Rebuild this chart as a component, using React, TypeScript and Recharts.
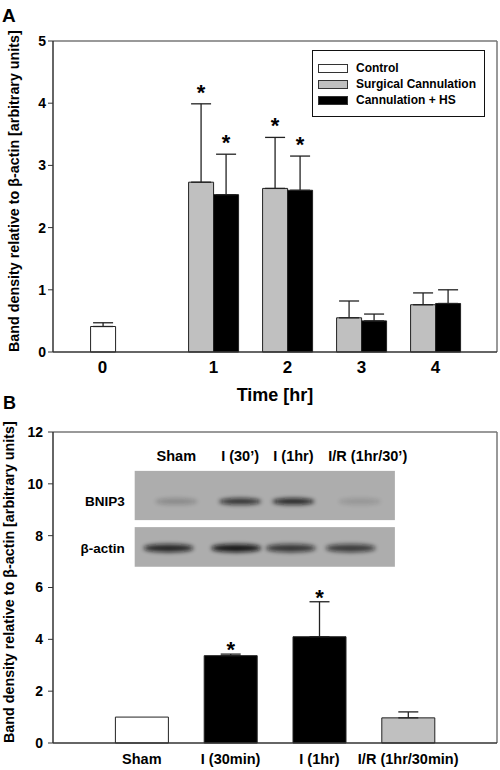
import React from 'react';
import {
  BarChart,
  Bar,
  XAxis,
  YAxis,
  ErrorBar,
  Legend,
  ReferenceLine,
  ReferenceArea,
  Label,
  Rectangle,
  Cell,
} from 'recharts';

const FONT = '"Liberation Sans", Arial, Helvetica, sans-serif';

// ---- panel A: band density over time ----
const timeLabels = ['0', '1', '2', '3', '4'];
const controlMean = [0.41, null, null, null, null];
const controlSem = [0.06, null, null, null, null];
const cannulationMean = [null, 2.73, 2.63, 0.55, 0.76];
const cannulationSem = [null, 1.26, 0.82, 0.27, 0.19];
const cannulationSig = [false, true, true, false, false];
const hsMean = [null, 2.53, 2.6, 0.5, 0.78];
const hsSem = [null, 0.65, 0.55, 0.11, 0.22];
const hsSig = [false, true, true, false, false];

// ---- panel B: ischemia / reperfusion groups ----
const groupLabels = ['Sham', 'I (30min)', 'I (1hr)', 'I/R (1hr/30min)'];
const groupKind = ['sham', 'ischemia', 'ischemia', 'reperfusion'];
const groupMean = [1.0, 3.37, 4.1, 0.97];
const groupSem = [null, 0.06, 1.35, 0.23];
const groupSig = [false, true, true, false];

// western blot inset
const laneLabels = ['Sham', 'I (30\u2019)', 'I (1hr)', 'I/R (1hr/30\u2019)'];
const bnip3Intensity = [0.22, 0.8, 0.88, 0.14];
const actinIntensity = [0.85, 0.95, 0.75, 0.72];

const legendItems = [
  { label: 'Control', kind: 'sham' },
  { label: 'Surgical Cannulation', kind: 'reperfusion' },
  { label: 'Cannulation + HS', kind: 'ischemia' },
];

const FILL: Record<string, string> = { sham: '#ffffff', reperfusion: '#c0c0c0', ischemia: '#000000' };
const EDGE = '#222';
const FRAME = '#777';

// time 0 stands apart from the hourly groups, as in the figure
const slotA = (i: number) => (i === 0 ? -0.5 : i);
const domainA: [number, number] = [-1.17, 4.83];
const domainB: [number, number] = [0, 5];

const oneSided = (v: number | null) => (v == null ? null : [0, v]);

const tableA = timeLabels.map((t, i) => ({
  pos: slotA(i),
  time: t,
  control: controlMean[i],
  controlErr: oneSided(controlSem[i]),
  controlSem: controlSem[i],
  cannulation: cannulationMean[i],
  cannulationErr: oneSided(cannulationSem[i]),
  cannulationSem: cannulationSem[i],
  cannulationSig: cannulationSig[i],
  hs: hsMean[i],
  hsErr: oneSided(hsSem[i]),
  hsSem: hsSem[i],
  hsSig: hsSig[i],
}));

const tableB = groupLabels.map((g, i) => ({
  pos: i + 1,
  group: g,
  kind: groupKind[i],
  value: groupMean[i],
  valueErr: oneSided(groupSem[i]),
  valueSem: groupSem[i],
  valueSig: groupSig[i],
}));

const bold = { fontFamily: FONT, fontWeight: 'bold' as const, fill: '#000' };

// bar with an asterisk over the error cap when significant
const starBar = (key: string, lift: number) => (props: any) => {
  const { x, y, width, height, payload } = props;
  const mean = payload?.[key];
  if (mean == null || !height) return null;
  const sem = payload[key + 'Sem'] ?? 0;
  const capY = y - (sem * height) / mean;
  return (
    <g>
      <Rectangle x={x} y={y} width={width} height={height} fill={props.fill} stroke={EDGE} strokeWidth={1} />
      {payload[key + 'Sig'] && (
        <text x={x + width / 2} y={capY - lift} textAnchor="middle" fontSize={22} {...bold}>
          *
        </text>
      )}
    </g>
  );
};

const yTitle = (dx: number, size: number) => (props: any) => {
  const vb = props.viewBox || {};
  const x = (vb.x ?? 0) + dx;
  const y = (vb.y ?? 0) + (vb.height ?? 0);
  return (
    <text x={x} y={y} transform={`rotate(-90 ${x} ${y})`} fontSize={size} {...bold}>
      Band density relative to {'\u03b2'}-actin [arbitrary units]
    </text>
  );
};

const timeTitle = (props: any) => {
  const vb = props.viewBox || {};
  return (
    <text x={vb.x + vb.width / 2} y={vb.y + 49} textAnchor="middle" fontSize={18} {...bold}>
      Time [hr]
    </text>
  );
};

const LegendBox = () => (
  <div
    style={{
      border: '1.5px solid #111',
      background: '#fff',
      padding: '9px 6px 8px 5px',
      fontFamily: FONT,
      fontWeight: 'bold',
      fontSize: 12,
      lineHeight: '16px',
      boxSizing: 'border-box',
      width: 173,
    }}
  >
    {legendItems.map((it) => (
      <div key={it.label} style={{ display: 'flex', alignItems: 'center' }}>
        <span
          style={{
            display: 'inline-block',
            width: 28,
            height: 7,
            background: FILL[it.kind],
            border: '1px solid #333',
            marginRight: 8,
          }}
        />
        {it.label}
      </div>
    ))}
  </div>
);

const lanePos = [0.16, 0.405, 0.61, 0.865];
const actinPos = [0.13, 0.39, 0.6, 0.83];

const blotShape = (kind: 'bnip3' | 'actin') => (props: any) => {
  const { x, y, width, height } = props;
  const levels = kind === 'bnip3' ? bnip3Intensity : actinIntensity;
  const centers = kind === 'bnip3' ? lanePos : actinPos;
  const bandY = y + height * (kind === 'bnip3' ? 0.62 : 0.53);
  return (
    <g>
      <defs>
        <filter id={`blur-${kind}`} x="-50%" y="-200%" width="200%" height="500%">
          <feGaussianBlur stdDeviation="2.2" />
        </filter>
      </defs>
      <rect x={x} y={y} width={width} height={height} fill="#adadad" />
      {levels.map((a, i) => (
        <ellipse
          key={i}
          cx={x + centers[i] * width}
          cy={bandY}
          rx={kind === 'bnip3' ? 21 : 25}
          ry={kind === 'bnip3' ? 3.2 : 4}
          fill="#111"
          opacity={a}
          filter={`url(#blur-${kind})`}
        />
      ))}
      {kind === 'bnip3' &&
        laneLabels.map((l, i) => (
          <text key={l} x={x + lanePos[i] * width + (i === 3 ? 8 : 0)} y={y - 10} textAnchor="middle" fontSize={14.5} {...bold}>
            {l}
          </text>
        ))}
      <text x={x - 10} y={bandY + 5} textAnchor="end" fontSize={13.5} {...bold}>
        {kind === 'bnip3' ? 'BNIP3' : '\u03b2-actin'}
      </text>
    </g>
  );
};

export default function App() {
  return (
    <div style={{ position: 'absolute', left: 0, top: 0, width: 500, height: 770, background: '#fff', fontFamily: FONT }}>
      <div style={{ position: 'absolute', left: 0, top: 0 }}>
        <BarChart width={500} height={410} data={tableA} margin={{ top: 41, right: 3, bottom: 0, left: 0 }} barGap={0}>
          <XAxis
            type="number"
            dataKey="pos"
            domain={domainA}
            allowDataOverflow
            ticks={tableA.map((r) => r.pos)}
            tickFormatter={(v) => tableA.find((r) => r.pos === v)?.time ?? ''}
            tickLine={false}
            tickSize={6}
            tickMargin={3}
            height={58}
            axisLine={{ stroke: '#333', strokeWidth: 1.5 }}
            tick={{ fontSize: 17, ...bold }}
          >
            <Label content={timeTitle} />
          </XAxis>
          <XAxis xAxisId="ctrl" type="number" dataKey="pos" domain={domainA} allowDataOverflow hide />
          <YAxis
            domain={[0, 5]}
            ticks={[0, 1, 2, 3, 4, 5]}
            width={53}
            tickSize={5}
            tickMargin={2}
            axisLine={{ stroke: '#333', strokeWidth: 1.5 }}
            tickLine={{ stroke: '#333' }}
            tick={{ fontSize: 14, ...bold }}
          >
            <Label content={yTitle(19, 14.3)} />
          </YAxis>
          <ReferenceLine y={5} stroke={FRAME} strokeWidth={1.5} />
          <ReferenceLine x={domainA[1]} stroke={FRAME} strokeWidth={1.5} />
          <Bar xAxisId="ctrl" dataKey="control" barSize={25} fill={FILL.sham} isAnimationActive={false} shape={starBar('control', 4)}>
            <ErrorBar dataKey="controlErr" width={10} stroke="#222" strokeWidth={1.3} direction="y" />
          </Bar>
          <Bar dataKey="cannulation" barSize={25} fill={FILL.reperfusion} isAnimationActive={false} shape={starBar('cannulation', 4)}>
            <ErrorBar dataKey="cannulationErr" width={10} stroke="#222" strokeWidth={1.3} direction="y" />
          </Bar>
          <Bar dataKey="hs" barSize={25} fill={FILL.ischemia} isAnimationActive={false} shape={starBar('hs', 4)}>
            <ErrorBar dataKey="hsErr" width={10} stroke="#222" strokeWidth={1.3} direction="y" />
          </Bar>
          <Legend
            layout="vertical"
            align="center"
            verticalAlign="middle"
            content={LegendBox}
            wrapperStyle={{ left: 312, top: 50, width: 173, height: 'auto' }}
          />
        </BarChart>
      </div>

      <div style={{ position: 'absolute', left: 0, top: 410 }}>
        <BarChart width={500} height={360} data={tableB} margin={{ top: 22, right: 3, bottom: 0, left: 0 }}>
          <XAxis
            type="number"
            dataKey="pos"
            domain={domainB}
            allowDataOverflow
            ticks={tableB.map((r) => r.pos)}
            tickFormatter={(v) => tableB.find((r) => r.pos === v)?.group ?? ''}
            tickLine={false}
            tickSize={6}
            tickMargin={5}
            height={27}
            axisLine={{ stroke: '#333', strokeWidth: 1.5 }}
            tick={{ fontSize: 14.5, ...bold }}
          />
          <YAxis
            domain={[0, 12]}
            ticks={[0, 2, 4, 6, 8, 10, 12]}
            width={53}
            tickSize={5}
            tickMargin={5}
            axisLine={{ stroke: '#333', strokeWidth: 1.5 }}
            tickLine={{ stroke: '#333' }}
            tick={{ fontSize: 14, ...bold }}
          >
            <Label content={yTitle(14, 14.3)} />
          </YAxis>
          <ReferenceLine y={12} stroke={FRAME} strokeWidth={1.5} />
          <ReferenceLine x={domainB[1]} stroke={FRAME} strokeWidth={1.5} />
          <ReferenceArea x1={0.92} x2={3.85} y1={8.6} y2={10.5} shape={blotShape('bnip3')} />
          <ReferenceArea x1={0.92} x2={3.85} y1={6.8} y2={8.33} shape={blotShape('actin')} />
          <Bar dataKey="value" barSize={53} isAnimationActive={false} shape={starBar('value', -3)}>
            {tableB.map((r) => (
              <Cell key={r.group} fill={FILL[r.kind]} />
            ))}
            <ErrorBar dataKey="valueErr" width={10} stroke="#222" strokeWidth={1.3} direction="y" />
          </Bar>
        </BarChart>
      </div>

      <svg width={500} height={770} style={{ position: 'absolute', left: 0, top: 0, pointerEvents: 'none' }}>
        <text x={2} y={22} fontSize={19} {...bold}>A</text>
        <text x={3} y={409} fontSize={18} {...bold}>B</text>
      </svg>
    </div>
  );
}
